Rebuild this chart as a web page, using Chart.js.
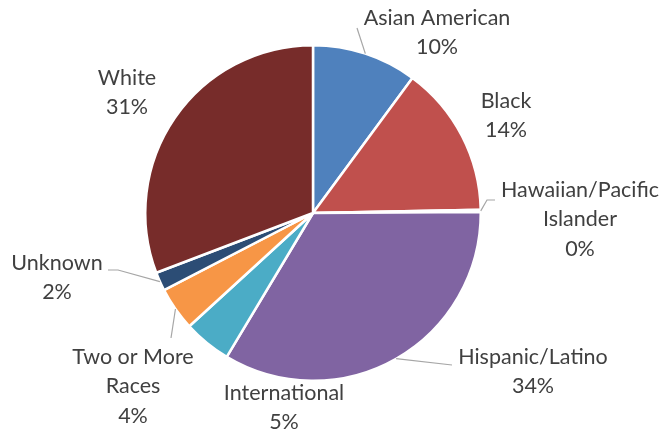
<!DOCTYPE html>
<html>
<head>
<meta charset="utf-8">
<script src="https://cdn.jsdelivr.net/npm/chart.js@4/dist/chart.umd.min.js"></script>
<style>
  html, body { margin: 0; padding: 0; background: #fff; }
  #wrap { width: 664px; height: 432px; position: relative; }
</style>
</head>
<body>
<div id="wrap"><canvas id="c" width="664" height="432"></canvas></div>
<script>
const categories = ["Asian American", "Black", "Hawaiian/Pacific Islander", "Hispanic/Latino", "International", "Two or More Races", "Unknown", "White"];
const shares = [10.1, 14.6, 0.2, 33.7, 4.6, 4.2, 1.8, 30.8];
const percentLabels = ["10%", "14%", "0%", "34%", "5%", "4%", "2%", "31%"];
const labelLines = [["Asian American"], ["Black"], ["Hawaiian/Pacific", "Islander"], ["Hispanic/Latino"], ["International"], ["Two or More", "Races"], ["Unknown"], ["White"]];
const colors = ["#4F81BD", "#C0504D", "#9BBB59", "#8064A2", "#4BACC6", "#F79646", "#2C4D75", "#772C2A"];

// label layout (center x, first line y) and leader elbow points
const labelLayout = [
  {x: 437, y: 18, leader: [[357, 28]]},
  {x: 506, y: 101, leader: null},
  {x: 580, y: 190, leader: [[487, 200], [495, 200]]},
  {x: 533, y: 357, leader: [[452, 365]]},
  {x: 284, y: 393, leader: null},
  {x: 133, y: 357, leader: [[171, 338]]},
  {x: 57, y: 263, leader: [[118, 270], [108, 270]]},
  {x: 127, y: 78, leader: null}
];

const labelPlugin = {
  id: 'pieLabels',
  afterDatasetsDraw(chart) {
    const ctx = chart.ctx;
    const meta = chart.getDatasetMeta(0);
    ctx.save();
    meta.data.forEach((arc, i) => {
      const L = labelLayout[i];
      if (L.leader) {
        const mid = (arc.startAngle + arc.endAngle) / 2;
        const sx = arc.x + Math.cos(mid) * arc.outerRadius;
        const sy = arc.y + Math.sin(mid) * arc.outerRadius;
        ctx.beginPath();
        ctx.strokeStyle = '#A6A6A6';
        ctx.lineWidth = 1.2;
        ctx.moveTo(sx, sy);
        L.leader.forEach(p => ctx.lineTo(p[0], p[1]));
        ctx.stroke();
      }
      ctx.fillStyle = '#404040';
      ctx.font = '21.5px Lato, "Open Sans", sans-serif';
      ctx.textAlign = 'center';
      ctx.textBaseline = 'middle';
      const lines = labelLines[i].concat([percentLabels[i]]);
      lines.forEach((t, k) => ctx.fillText(t, L.x, L.y + k * 29.5));
    });
    ctx.restore();
  }
};

new Chart(document.getElementById('c'), {
  type: 'pie',
  data: {
    labels: categories,
    datasets: [{
      data: shares,
      backgroundColor: colors,
      borderColor: '#FFFFFF',
      borderWidth: 2.5
    }]
  },
  options: {
    responsive: false,
    animation: false,
    layout: { padding: { top: 44, bottom: 50, left: 144, right: 182 } },
    plugins: {
      legend: { display: false },
      tooltip: { enabled: false }
    }
  },
  plugins: [labelPlugin]
});
</script>
</body>
</html>
